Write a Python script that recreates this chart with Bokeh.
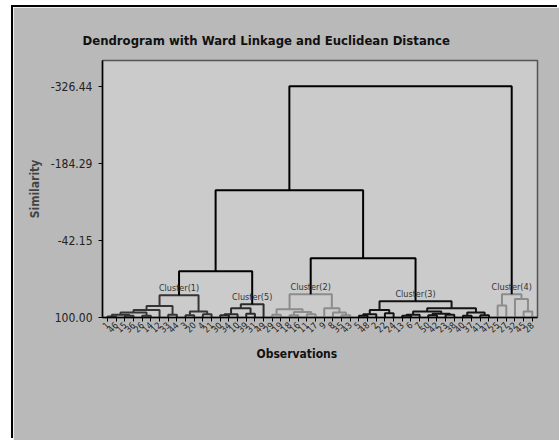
import math
from bokeh.plotting import figure
from bokeh.models import Range1d, FixedTicker, PrintfTickFormatter, Title
from bokeh.core.properties import value
from bokeh.embed import file_html
from bokeh.resources import INLINE

# ---- data -------------------------------------------------------------
leaf_labels = ["1", "46", "15", "36", "26", "14", "12", "33", "44", "3", "20", "4", "21",
               "30", "34", "10", "39", "31", "49",
               "29", "19", "18", "16", "11", "17", "9", "8", "35", "43",
               "5", "48", "2", "22", "24", "13", "6", "7", "50", "42", "23", "38", "40", "37", "41", "47",
               "25", "27", "32", "45", "28"]

# linkage: nodes 0..49 are leaves (in plotted order), 50+ are merges
merge_left = [0, 2, 50, 4, 52, 54, 7, 55, 9, 11, 58, 57,
              13, 62, 16, 63, 65,
              19, 21, 23, 68, 67, 27, 26, 25, 71,
              29, 76, 32, 77, 34, 80, 37, 39, 82, 81, 41, 43, 86, 85, 79,
              45, 48, 47, 91,
              61, 75, 95, 97]
merge_right = [1, 3, 51, 5, 53, 6, 8, 56, 10, 12, 59, 60,
               14, 15, 17, 64, 18,
               20, 22, 24, 69, 70, 28, 72, 73, 74,
               30, 31, 33, 78, 35, 36, 38, 40, 83, 84, 42, 44, 87, 88, 89,
               46, 49, 92, 93,
               66, 90, 96, 94]
merge_height = [98, 97, 95, 97, 91, 86, 95, 79, 96, 94, 89, 59,
                96, 94, 93, 83, 75.5,
                95, 96, 94, 90, 85, 96, 91, 83, 57,
                97, 94, 92, 86, 97, 95, 96, 95, 93, 89, 97, 96, 91, 83, 70,
                78, 89, 66, 57,
                14.6, -9.3, -134.7, -326.44]

cluster_roots = [61, 75, 90, 94, 66]
cluster_names = ["Cluster(1)", "Cluster(2)", "Cluster(3)", "Cluster(4)", "Cluster(5)"]
cluster_colors = ["#353535", "#8c8c8c", "#141414", "#8c8c8c", "#2c2c2c"]

y_ticks = [100.00, -42.15, -184.29, -326.44]
baseline = 100.0

FONT = "DejaVu Sans Condensed"

# ---- layout of the tree -------------------------------------------------
n = len(leaf_labels)
pos = {i: (float(i), baseline) for i in range(n)}
children = {}
for k, (l, r, h) in enumerate(zip(merge_left, merge_right, merge_height)):
    node = n + k
    children[node] = (l, r)
    pos[node] = ((pos[l][0] + pos[r][0]) / 2.0, h)

def subtree(node):
    out, stack = set(), [node]
    while stack:
        c = stack.pop()
        out.add(c)
        if c in children:
            stack.extend(children[c])
    return out

node_color = {}
for root, col in zip(cluster_roots, cluster_colors):
    for c in subtree(root):
        node_color[c] = col

xs, ys, cols = [], [], []
for k, (l, r, h) in enumerate(zip(merge_left, merge_right, merge_height)):
    node = n + k
    xl, hl = pos[l]
    xr, hr = pos[r]
    xs.append([xl, xl, xr, xr])
    ys.append([hl, h, h, hr])
    cols.append(node_color.get(node, "#000000"))

# ---- figure -------------------------------------------------------------
p = figure(width=546, height=433, output_backend="svg", toolbar_location=None,
           x_range=Range1d(-0.58, 49.6), y_range=Range1d(100, -373.8),
           min_border_left=89, min_border_right=22, min_border_top=53, min_border_bottom=123,
           background_fill_color="#cbcbcb", border_fill_color="#b9b9b9",
           margin=(7, 0, 0, 13),
           styles={"box-shadow": "-2px -2px 0 0 #000000"})

p.title.text = "Dendrogram with Ward Linkage and Euclidean Distance"
p.title.align = "left"
p.title.offset = -20
p.title.standoff = 25
p.title.text_font = FONT
p.title.text_font_size = "13px"
p.title.text_font_style = "bold"
p.title.text_color = "#111111"

p.outline_line_color = "#555555"
p.outline_line_width = 1.5
p.grid.visible = False

p.multi_line(xs=xs, ys=ys, line_color=cols, line_width=2)

p.text(x=[pos[r][0] for r in cluster_roots], y=[pos[r][1] for r in cluster_roots],
       text=cluster_names, text_align="center", text_baseline="bottom", y_offset=-2,
       text_font=value(FONT), text_font_size="9px", text_color="#333333")

# y axis
ya = p.yaxis[0]
ya.ticker = FixedTicker(ticks=y_ticks)
ya.formatter = PrintfTickFormatter(format="%.2f")
ya.axis_label = "Similarity"
ya.axis_label_text_font = FONT
ya.axis_label_text_font_size = "12px"
ya.axis_label_text_font_style = "bold"
ya.axis_label_standoff = 6
ya.major_label_text_font = FONT
ya.major_label_text_font_size = "12px"
ya.major_label_text_color = "#222222"
ya.major_tick_out = 4
ya.major_tick_in = 0
ya.minor_tick_out = 0
ya.minor_tick_in = 0
ya.axis_line_width = 1.5
ya.major_label_standoff = 6

# x axis
xa = p.xaxis[0]
xa.ticker = FixedTicker(ticks=list(range(n)))
xa.major_label_overrides = {i: lab for i, lab in enumerate(leaf_labels)}
xa.major_label_orientation = math.pi / 4
xa.major_label_text_font = FONT
xa.major_label_text_font_size = "9px"
xa.major_label_text_color = "#222222"
xa.major_tick_out = 4
xa.major_tick_in = 0
xa.minor_tick_out = 0
xa.minor_tick_in = 0
xa.axis_line_width = 1.5
xa.major_label_standoff = 2

p.add_layout(Title(text="Observations", align="left", offset=154, text_font=FONT, standoff=12,
                   text_font_size="12px", text_font_style="bold", text_color="#111111"), "below")

open("out.html", "w").write(file_html(p, INLINE))
